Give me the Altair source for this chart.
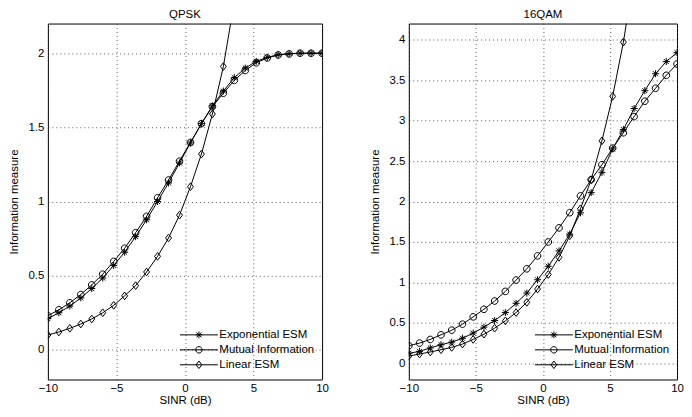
import altair as alt
import pandas as pd

SINR = [-10, -9.2, -8.4, -7.6, -6.8, -6, -5.2, -4.4, -3.6, -2.8, -2, -1.2, -0.4,
        0.4, 1.2, 2, 2.8, 3.6, 4.4, 5.2, 6, 6.8, 7.6, 8.4, 9.2, 10]

SERIES = ["Exponential ESM", "Mutual Information", "Linear ESM"]

QPSK_EXP = [0.21, 0.25, 0.295, 0.35, 0.413, 0.484, 0.569, 0.658, 0.763, 0.877, 1.0, 1.125, 1.26,
            1.395, 1.525, 1.645, 1.745, 1.835, 1.9, 1.945, 1.972, 1.99, 1.997, 2.0, 2.0, 2.0]
QPSK_MI = [0.23, 0.27, 0.317, 0.373, 0.438, 0.51, 0.596, 0.685, 0.79, 0.90, 1.025, 1.145, 1.272,
           1.398, 1.525, 1.64, 1.73, 1.817, 1.884, 1.935, 1.968, 1.988, 1.995, 2.0, 2.0, 2.0]
QPSK_LIN = [0.10, 0.12, 0.145, 0.174, 0.208, 0.25, 0.30, 0.364, 0.433, 0.525, 0.63, 0.754, 0.908,
            1.10, 1.32, 1.59, 1.91, 2.35]

QAM_EXP = [0.123, 0.148, 0.19, 0.23, 0.262, 0.31, 0.373, 0.447, 0.529, 0.627, 0.742, 0.869, 1.033,
           1.20, 1.39, 1.597, 1.86, 2.11, 2.36, 2.65, 2.89, 3.15, 3.37, 3.58, 3.73, 3.84]
QAM_MI = [0.217, 0.25, 0.295, 0.352, 0.41, 0.484, 0.574, 0.668, 0.77, 0.889, 1.029, 1.168, 1.328,
          1.5, 1.674, 1.862, 2.07, 2.27, 2.455, 2.66, 2.85, 3.05, 3.24, 3.40, 3.56, 3.70]
QAM_LIN = [0.09, 0.115, 0.14, 0.168, 0.197, 0.238, 0.295, 0.36, 0.434, 0.525, 0.627, 0.754, 0.918,
           1.098, 1.31, 1.576, 1.91, 2.27, 2.75, 3.30, 3.97, 4.8]

X_TICKS = [-10, -5, 0, 5, 10]
QPSK_Y_TICKS = [0, 0.5, 1, 1.5, 2]
QAM_Y_TICKS = [0, 0.5, 1, 1.5, 2, 2.5, 3, 3.5, 4]

# marker shapes (unit coordinates)
MARKER_PATHS = [
    "M-1,0L1,0M0,-1L0,1M-0.7,-0.7L0.7,0.7M-0.7,0.7L0.7,-0.7",
    "M0.95,0A0.95,0.95,0,1,1,-0.95,0A0.95,0.95,0,1,1,0.95,0",
    "M0,-1.1L0.85,0L0,1.1L-0.85,0Z",
]
# legend shapes: line with marker in the middle
LEGEND_PATHS = [
    "M-1,0L1,0M-0.18,0L0.18,0M0,-0.18L0,0.18M-0.13,-0.13L0.13,0.13M-0.13,0.13L0.13,-0.13",
    "M-1,0L1,0M0.17,0A0.17,0.17,0,1,1,-0.17,0A0.17,0.17,0,1,1,0.17,0",
    "M-1,0L1,0M0,-0.2L0.15,0L0,0.2L-0.15,0Z",
]

FONT = "Liberation Sans"
FS = 11.5


def long_df(series_vals):
    rows = []
    for name, vals in zip(SERIES, series_vals):
        for x, y in zip(SINR, vals):
            rows.append({"sinr": x, "val": y, "series": name})
    return pd.DataFrame(rows)


def panel(df, title, ydom, yticks, width):
    x = alt.X("sinr:Q", scale=alt.Scale(domain=[-10, 10], nice=False),
              axis=alt.Axis(values=X_TICKS, title="SINR (dB)", format="d"))
    y = alt.Y("val:Q", scale=alt.Scale(domain=ydom, nice=False, zero=False),
              axis=alt.Axis(values=yticks, title="Information measure", format="~g"))
    base = alt.Chart(df)
    lines = base.mark_line(color="black", strokeWidth=1, clip=True).encode(
        x=x, y=y, detail="series:N")
    pts = base.mark_point(filled=False, color="black", strokeWidth=1, size=49,
                          clip=True, opacity=1).encode(
        x=x, y=y,
        shape=alt.Shape("series:N", scale=alt.Scale(domain=SERIES, range=MARKER_PATHS),
                        legend=None))
    leg = base.transform_filter("false").mark_point(
        filled=False, color="black", strokeWidth=1, opacity=1).encode(
        x=x, y=y,
        shape=alt.Shape("series:N", scale=alt.Scale(domain=SERIES, range=LEGEND_PATHS),
                        legend=alt.Legend(title=None, orient="bottom-right", offset=7,
                                          symbolSize=1444, symbolStrokeWidth=1,
                                          symbolStrokeColor="black",
                                          symbolFillColor="transparent",
                                          labelOffset=1, clipHeight=14.5, rowPadding=0,
                                          padding=0, labelFont=FONT, labelFontSize=FS,
                                          labelColor="black")))
    return alt.layer(lines, pts, leg).resolve_scale(shape="independent").properties(
        width=width, height=357,
        title=alt.Title(title, frame="group", fontSize=FS, fontWeight="normal",
                        font=FONT, offset=3, color="black"))


left = panel(long_df([QPSK_EXP, QPSK_MI, QPSK_LIN]), "QPSK", [-0.2, 2.2], QPSK_Y_TICKS, 275)
right = panel(long_df([QAM_EXP, QAM_MI, QAM_LIN]), "16QAM", [-0.2, 4.2], QAM_Y_TICKS, 269)

chart = alt.hconcat(left, right, spacing=40).properties(
    padding={"left": 0, "top": 0, "right": 0, "bottom": 0}
).configure_view(stroke="black", strokeWidth=1).configure_axis(
    grid=True, gridDash=[1, 3], gridColor="#333", gridWidth=0.8,
    domain=False, ticks=False, labelPadding=4, labelFlush=False,
    labelFont=FONT, labelFontSize=FS, labelColor="black",
    titleFont=FONT, titleFontSize=FS, titleFontWeight="normal", titleColor="black",
).configure_axisX(titlePadding=1, labelPadding=3).configure_axisY(titlePadding=8)

chart.save("out.html", embed_options={"renderer": "svg", "actions": False})
